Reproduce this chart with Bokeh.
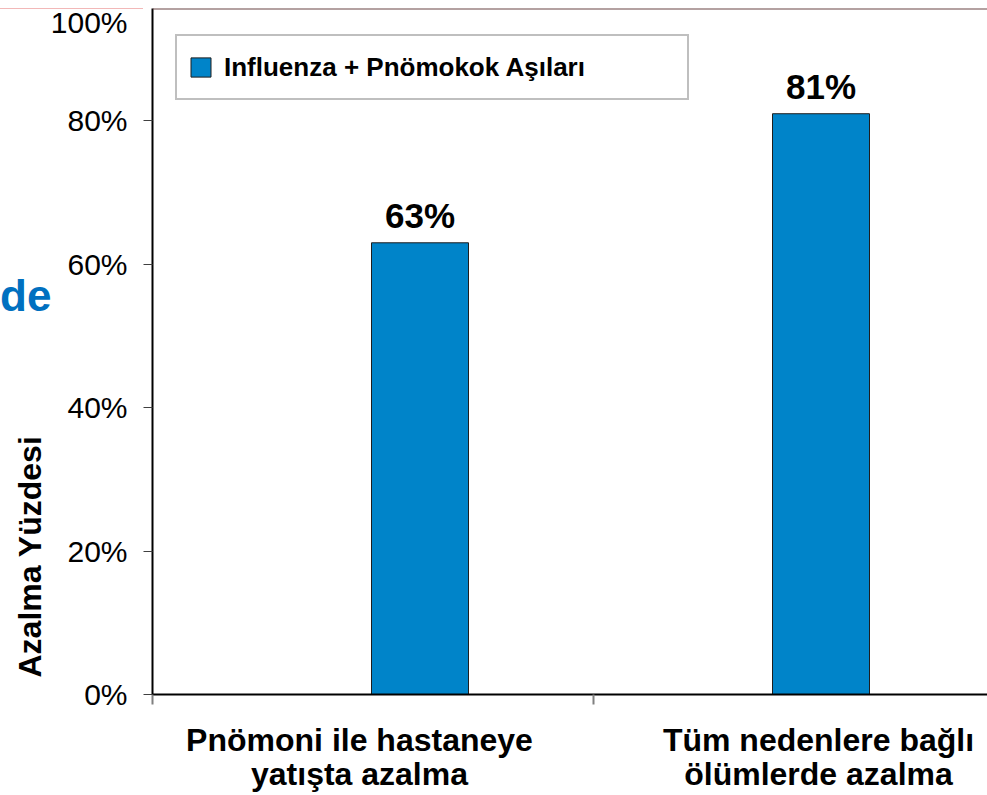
from bokeh.plotting import figure
from bokeh.models import (Range1d, FixedTicker, ColumnDataSource, LabelSet,
                          Legend, LegendItem, Title, Span, Div)
from bokeh.layouts import column
from bokeh.core.properties import value
from bokeh.embed import file_html
from bokeh.resources import INLINE

# ---------------- data ----------------
categories = ["Pnömoni ile hastaneye\nyatışta azalma",
              "Tüm nedenlere bağlı\nölümlerde azalma"]
values = [63, 81]
series_name = "Influenza + Pnömokok Aşıları"
y_tick_values = [0, 20, 40, 60, 80, 100]
y_tick_labels = ["0%", "20%", "40%", "60%", "80%", "100%"]
y_axis_title = "Azalma Yüzdesi"
title_fragment = "de"

# ---------------- layout (pixels) ----------------
W, H = 987, 795
BORDER_LEFT = 152
BORDER_TOP = 8
BORDER_BOTTOM = 101
FRAME_W = W - BORDER_LEFT
FRAME_H = H - BORDER_BOTTOM - BORDER_TOP
PX_PER_PCT = 7.17
PX_PER_CAT = 401.0
Y_END = FRAME_H / PX_PER_PCT
X_START = 1 - 267.5 / PX_PER_CAT
X_END = X_START + FRAME_W / PX_PER_CAT
BAR_W = 97 / PX_PER_CAT
LABEL_POS = [1 - 60.5 / PX_PER_CAT, 1 + 398.5 / PX_PER_CAT]
DIVIDERS = [X_START, 1 + 173.2 / PX_PER_CAT]
# the original slide is cropped: its 100% label is squeezed just under the top edge
TOP_LABEL_POS = Y_END - 14 / PX_PER_PCT

BLUE = "#0084C9"
FONT = "Liberation Sans"

bar_x = [i + 1 for i in range(len(values))]
src = ColumnDataSource(dict(x=bar_x, top=values,
                            label=[f"{v}%" for v in values]))

p = figure(width=W, height=H, output_backend="svg", toolbar_location=None,
           x_range=Range1d(X_START, X_END), y_range=Range1d(0, Y_END),
           min_border_left=BORDER_LEFT, min_border_right=0,
           min_border_top=BORDER_TOP, min_border_bottom=BORDER_BOTTOM)
p.outline_line_color = None
p.xgrid.visible = False
p.ygrid.visible = False
p.background_fill_color = "white"
p.border_fill_color = "white"

p.add_layout(Span(location=Y_END, dimension="width", line_color="#6b4545",
                  line_width=2))

r = p.vbar(x="x", top="top", width=BAR_W, bottom=0, source=src,
           fill_color=BLUE, line_color="#1e1e1e", line_width=1)

p.add_layout(LabelSet(x="x", y="top", text="label", source=src,
                      y_offset=15, text_align="center",
                      text_baseline="alphabetic",
                      text_font=value(FONT), text_font_style="bold",
                      text_font_size="35px", text_color="black"))

# y axis: labels on major ticks (no marks), tick marks as minor ticks
ya = p.yaxis[0]
label_positions = [v if v <= Y_END else TOP_LABEL_POS for v in y_tick_values]
ya.ticker = FixedTicker(ticks=label_positions,
                        minor_ticks=[v for v in y_tick_values if v <= Y_END])
ya.major_label_overrides = {pos: l for pos, l in zip(label_positions, y_tick_labels)}
ya.major_label_text_font = FONT
ya.major_label_text_font_size = "30px"
ya.major_label_text_color = "black"
ya.major_tick_out = 0
ya.major_tick_in = 0
ya.minor_tick_out = 9
ya.minor_tick_in = 0
ya.minor_tick_line_color = "#404040"
ya.minor_tick_line_width = 1
ya.axis_line_color = "black"
ya.axis_line_width = 2
ya.major_label_standoff = 16

# x axis
xa = p.xaxis[0]
xa.ticker = FixedTicker(ticks=LABEL_POS, minor_ticks=DIVIDERS)
xa.major_label_overrides = {pos: c for pos, c in zip(LABEL_POS, categories)}
xa.major_label_text_font = FONT
xa.major_label_text_font_style = "bold"
xa.major_label_text_font_size = "32px"
xa.major_label_text_color = "black"
xa.major_label_text_line_height = 0.95
xa.major_tick_out = 0
xa.major_tick_in = 0
xa.minor_tick_out = 10
xa.minor_tick_in = 0
xa.minor_tick_line_color = "#808080"
xa.minor_tick_line_width = 2
xa.axis_line_color = "black"
xa.axis_line_width = 2
xa.major_label_standoff = 17

# axis title, placed toward the bottom as in the original
p.add_layout(Title(text=y_axis_title, align="left", offset=17,
                   text_font=FONT, text_font_style="bold",
                   text_font_size="32px", text_color="black",
                   standoff=0), "left")

legend = Legend(items=[LegendItem(label=series_name, renderers=[r])],
                location=(23, FRAME_H - 92), orientation="vertical",
                padding=11, margin=0, spacing=0,
                glyph_width=25, glyph_height=24, label_standoff=11,
                label_width=452, label_height=40,
                label_text_font=FONT, label_text_font_style="bold",
                label_text_font_size="26px", label_text_color="black",
                border_line_color="#7f7f7f", border_line_width=2,
                background_fill_color="white", background_fill_alpha=1.0)
p.add_layout(legend)

# cropped slide-title fragment at the left edge of the original picture
frag = Div(text=title_fragment, width=60, height=46, margin=(0, 0, 0, 0),
           styles={"position": "absolute", "left": "0px", "top": "274px",
                   "color": "#0070C0", "font-family": "'Liberation Sans'",
                   "font-weight": "bold", "font-size": "44px",
                   "line-height": "1", "z-index": "10"})

# thin pink slide rule left of the plot area's top edge
rule = Div(text="", width=143, height=1, margin=(0, 0, 0, 0),
           styles={"position": "absolute", "left": "0px", "top": "8px",
                   "background-color": "#f2b8b8", "z-index": "10"})

layout = column(p, frag, rule, spacing=0)
open("out.html", "w").write(file_html(layout, INLINE))
